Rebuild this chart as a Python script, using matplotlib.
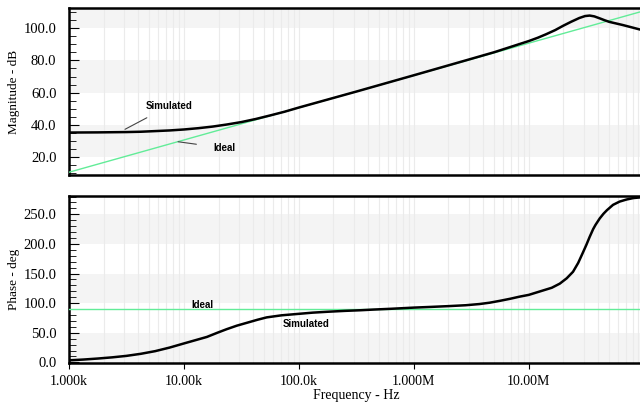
import numpy as np
import matplotlib
matplotlib.use("Agg")
from matplotlib import pyplot as plt
from matplotlib.ticker import FixedLocator, MultipleLocator, AutoMinorLocator, LogLocator, NullFormatter

# log10 of frequency (Hz) for the simulated curves
mag_logf = [3.0, 3.25, 3.5, 3.625, 3.75, 3.875, 4.0, 4.125, 4.25, 4.375, 4.5, 4.625,
            4.75, 4.875, 5.0, 5.5, 6.0, 6.5, 6.7, 6.9, 7.0, 7.08, 7.15, 7.23, 7.3,
            7.37, 7.44, 7.49, 7.53, 7.57, 7.62, 7.66, 7.70, 7.76, 7.82, 7.89, 7.965]
mag_sim = [35.3, 35.4, 35.6, 35.8, 36.2, 36.6, 37.2, 38.0, 39.0, 40.3, 41.8, 43.7,
           45.9, 48.2, 50.8, 60.7, 70.8, 81.0, 85.1, 89.7, 92.0, 94.1, 96.2, 98.8, 101.5,
           104.0, 106.3, 107.5, 107.8, 107.3, 106.0, 104.9, 103.9, 102.9, 101.9, 100.6, 99.2]
ideal_logf = [3.0, 8.0]
mag_ideal = [10.7, 110.7]
ph_ideal = [90, 90]

ph_logf = [3.0, 3.125, 3.25, 3.375, 3.5, 3.625, 3.75, 3.875, 4.0, 4.1, 4.2, 4.29,
           4.371, 4.46, 4.55, 4.64, 4.72, 4.85, 5.0, 5.12, 5.25, 5.4, 5.53, 5.65,
           5.8, 6.0, 6.15, 6.3, 6.45, 6.57, 6.66, 6.75, 6.84, 6.92, 7.0, 7.1, 7.2,
           7.27, 7.33, 7.385, 7.43, 7.47, 7.50, 7.53, 7.56, 7.58, 7.617, 7.65, 7.68,
           7.733, 7.79, 7.85, 7.91, 7.965]
ph_sim = [3.5, 4.8, 6.5, 8.5, 11, 14.5, 19, 25, 32, 37.5, 43, 50,
          56, 62, 67, 72, 76, 79.5, 82, 84, 85.5, 87, 88, 89.2,
          90.5, 92.5, 93.7, 95, 96.5, 98.5, 100.8, 104, 107.5, 111, 114, 120, 126,
          133, 142, 153, 168, 185, 198, 212, 225, 232, 243, 251, 257,
          266, 271.5, 275, 277.5, 278.5]

xticks = [1e3, 1e4, 1e5, 1e6, 1e7]
xticklabels = ["1.000k", "10.00k", "100.0k", "1.000M", "10.00M"]

serif = "Liberation Serif"
sans = "Liberation Sans"
green = "#62ec98"

fig = plt.figure(figsize=(6.4, 4.03), dpi=100)
ax1 = fig.add_axes([0.1078, 0.5658, 0.898, 0.4144])
ax2 = fig.add_axes([0.1078, 0.0993, 0.898, 0.4144])


def style(ax, ylim, major, nminor, bands):
    ax.set_xscale("log")
    ax.set_xlim(1e3, 1e8)
    ax.set_ylim(*ylim)
    for lo, hi in bands:
        ax.axhspan(lo, hi, color="#f4f4f4", lw=0, zorder=0)
    ax.xaxis.set_major_locator(FixedLocator(xticks))
    ax.xaxis.set_minor_locator(LogLocator(base=10, subs=np.arange(2, 10), numticks=20))
    ax.xaxis.set_minor_formatter(NullFormatter())
    ax.grid(True, which="both", axis="x", color="#ebebeb", lw=0.8, zorder=1)
    ax.yaxis.set_major_locator(MultipleLocator(major))
    ax.yaxis.set_minor_locator(AutoMinorLocator(nminor))
    ax.tick_params(axis="y", which="major", direction="in", length=7, width=0.8,
                   labelsize=10.5, pad=9)
    ax.tick_params(axis="y", which="minor", direction="in", length=5, width=0.6)
    ax.tick_params(axis="x", which="major", direction="out", length=4, width=0.8,
                   labelsize=10, pad=5)
    ax.tick_params(axis="x", which="minor", length=0)
    for s in ["left", "top", "bottom"]:
        ax.spines[s].set_linewidth(1.8)
    ax.spines["right"].set_visible(False)


# magnitude panel
style(ax1, (9, 112.5), 20, 4, [(20, 40), (60, 80), (100, 120)])
ax1.yaxis.set_major_formatter(lambda v, p: "" if v < 20 else f"{v:.1f}")
ax1.tick_params(axis="x", which="major", length=0, labelbottom=False)
ax1.plot(10 ** np.array(ideal_logf), mag_ideal, color=green, lw=1.0, zorder=3)
ax1.plot(10 ** np.array(mag_logf), mag_sim, color="black", lw=1.8, zorder=4)
ax1.set_ylabel("Magnitude - dB", fontfamily=serif, fontsize=9.5)
ax1.yaxis.set_label_coords(-0.085, 0.5)
ax1.annotate("Simulated", xy=(3.07e3, 37.3), xytext=(7.4e3, 51.7), ha="center", va="center",
             fontfamily=sans, fontweight="bold", fontsize=7,
             arrowprops=dict(arrowstyle="-", color="#444444", lw=0.8, shrinkA=6, shrinkB=0))
ax1.annotate("Ideal", xy=(8.9e3, 29.6), xytext=(22.3e3, 25.7), ha="center", va="center",
             fontfamily=sans, fontweight="bold", fontsize=7,
             arrowprops=dict(arrowstyle="-", color="#444444", lw=0.8, shrinkA=10, shrinkB=0))

# phase panel
style(ax2, (-1, 281), 50, 5, [(0, 50), (100, 150), (200, 250)])
ax2.yaxis.set_major_formatter(lambda v, p: f"{v:.1f}")
ax2.set_xticklabels(xticklabels)
ax2.plot(10 ** np.array(ideal_logf), ph_ideal, color=green, lw=1.0, zorder=3)
ax2.plot(10 ** np.array(ph_logf), ph_sim, color="black", lw=1.8, zorder=4)
ax2.set_ylabel("Phase - deg", fontfamily=serif, fontsize=9.5)
ax2.yaxis.set_label_coords(-0.085, 0.5)
ax2.set_xlabel("Frequency - Hz", fontfamily=serif, fontsize=10)
ax2.xaxis.set_label_coords(0.5, -0.155)
ax2.text(14.6e3, 97.2, "Ideal", ha="center", va="center",
         fontfamily=sans, fontweight="bold", fontsize=7)
ax2.text(115e3, 65.2, "Simulated", ha="center", va="center",
         fontfamily=sans, fontweight="bold", fontsize=7)

for ax in (ax1, ax2):
    for lab in ax.get_yticklabels() + ax.get_xticklabels():
        lab.set_fontfamily(serif)

fig.savefig("out.png", dpi=100)
